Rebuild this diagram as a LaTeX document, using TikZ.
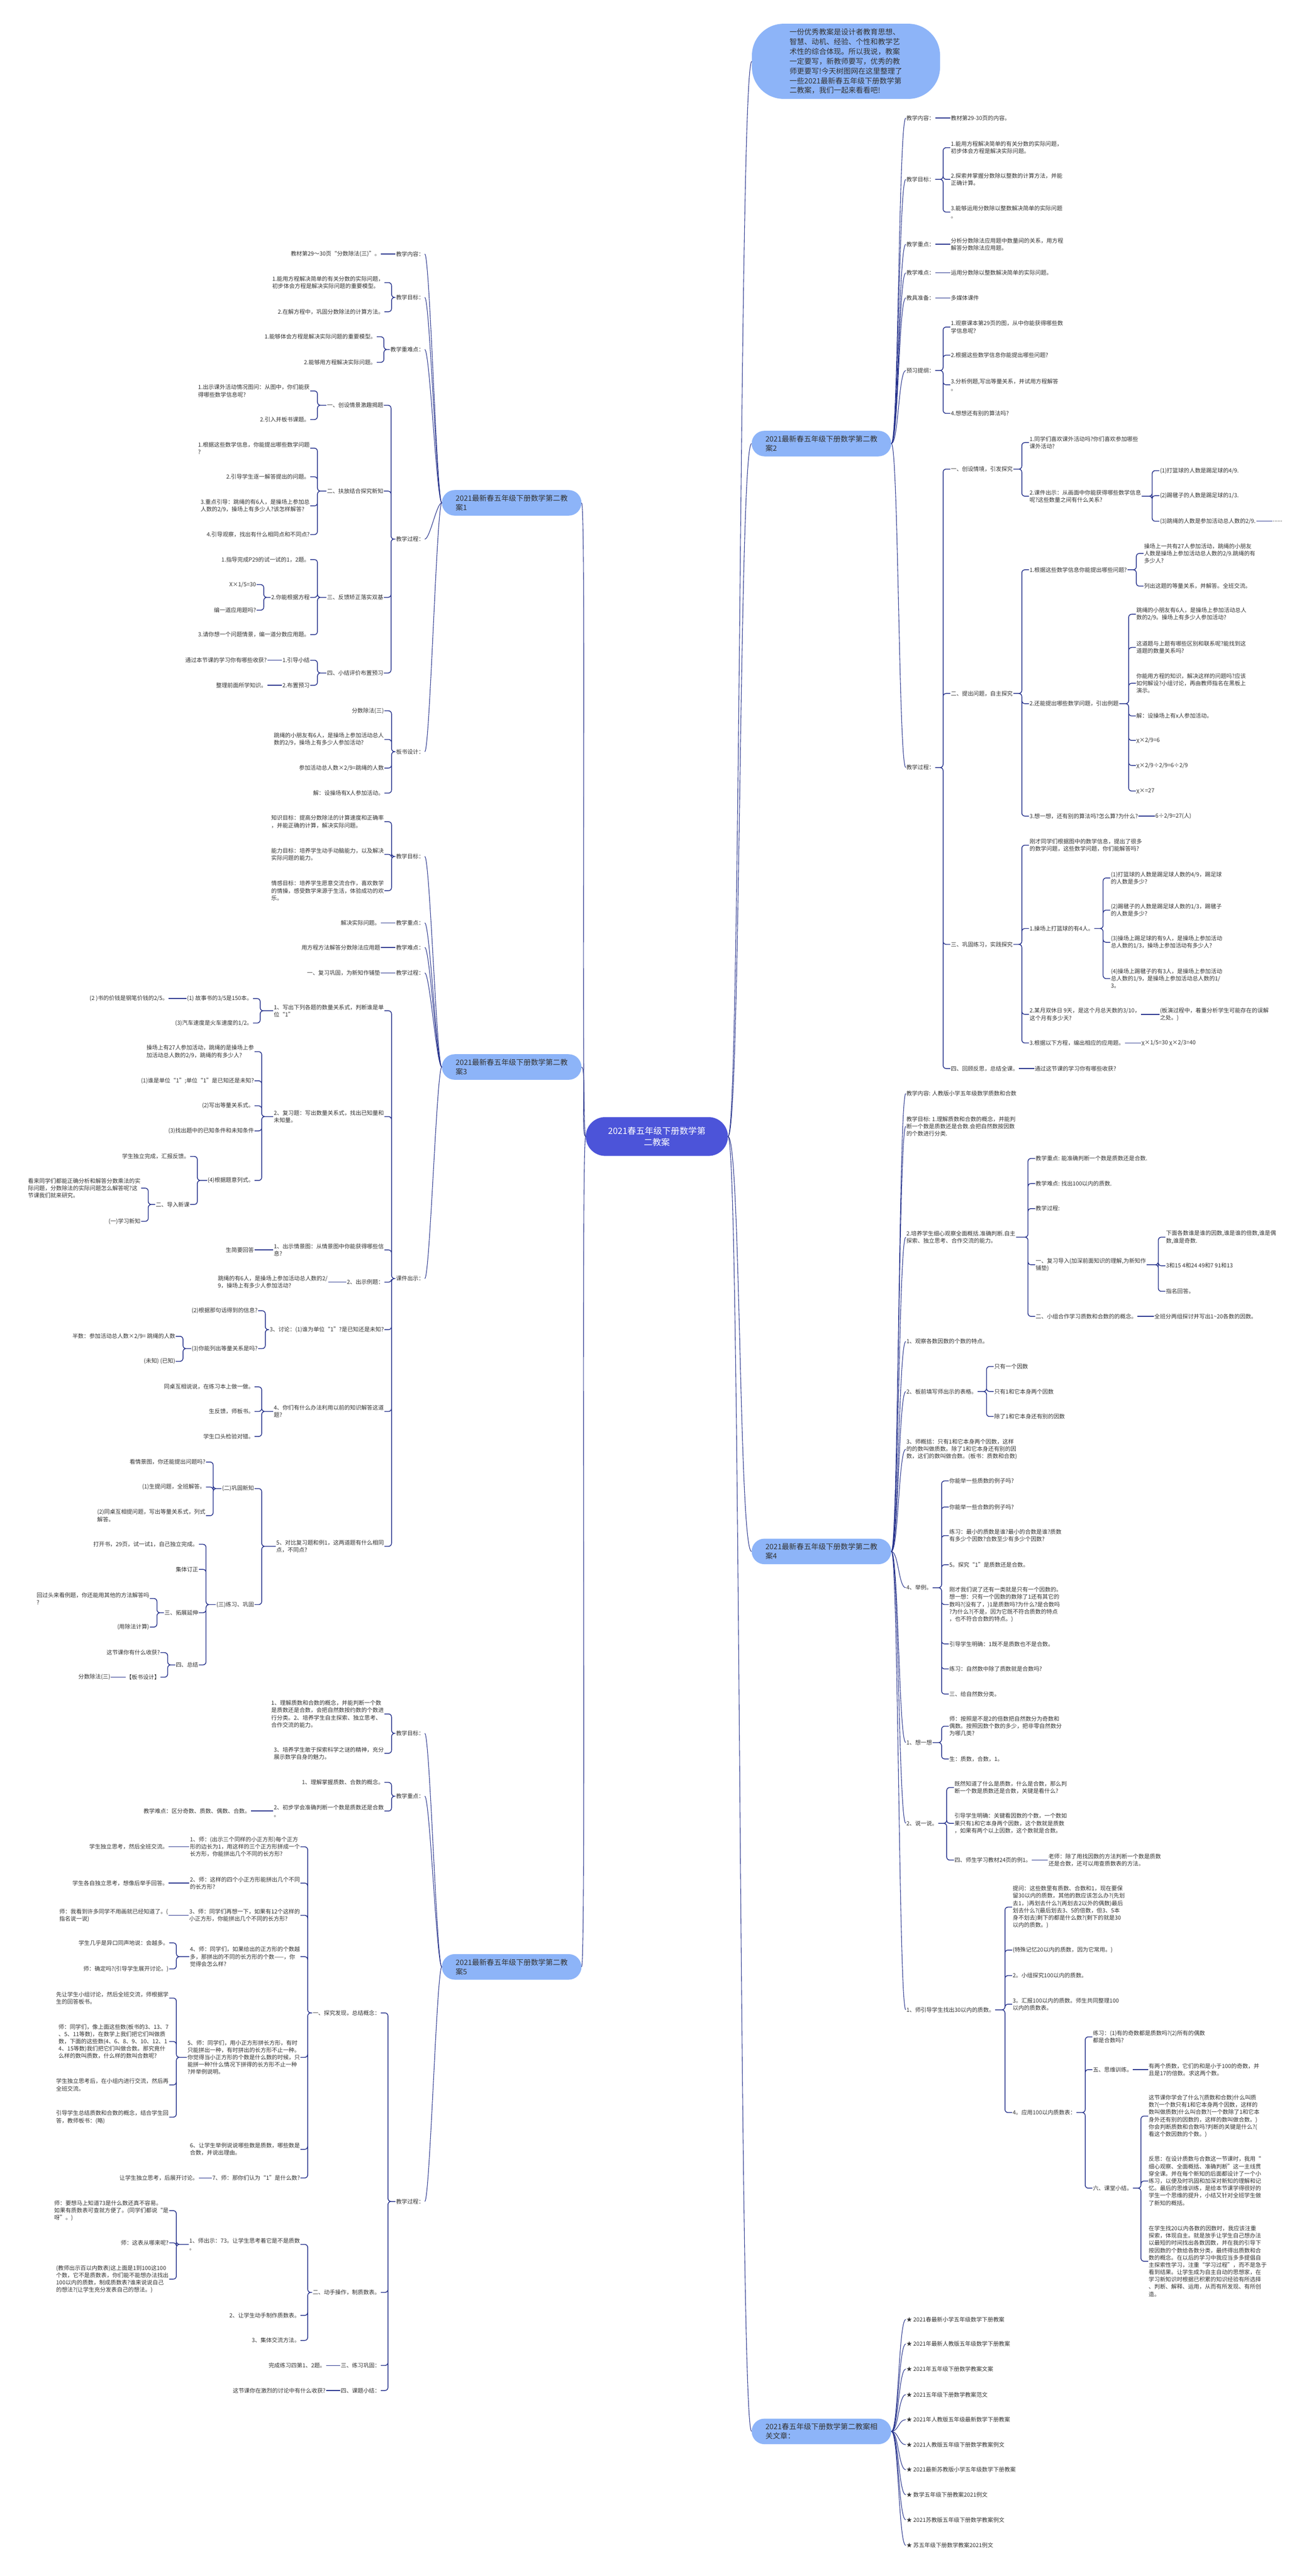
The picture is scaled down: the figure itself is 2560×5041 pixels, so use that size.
\documentclass[tikz,border=0pt]{standalone}
\usepackage{fontspec}
\setmainfont{Noto Sans CJK SC}
\usetikzlibrary{calc,positioning}
\definecolor{topicblue}{RGB}{141,180,248}
\definecolor{rootblue}{RGB}{76,84,217}
\definecolor{linkblue}{RGB}{38,50,140}
\definecolor{textgray}{RGB}{51,51,51}
\tikzset{
  leaf/.style={anchor=west, inner sep=1pt, align=left, text=textgray, font=\fontsize{11}{14.3}\selectfont},
  leafl/.style={leaf, anchor=east},
  topic/.style={fill=topicblue, rounded corners=25pt, minimum width=273pt, minimum height=50pt, inner sep=0pt, align=left, text=textgray, font=\fontsize{14.4}{18.4}\selectfont},
  intro/.style={fill=topicblue, rounded corners=62pt, minimum width=368pt, minimum height=147pt, align=left, text=textgray, font=\fontsize{14.4}{19}\selectfont},
  root/.style={fill=rootblue, text=white, rounded corners=38pt, minimum width=278pt, minimum height=76pt, align=center, font=\fontsize{17}{22}\selectfont},
  link/.style={draw=linkblue, line width=1.5pt, rounded corners=6pt},
  spoke/.style={draw=linkblue, line width=1.1pt},
  rbr/.style={to path={-- ($(\tikztotarget.west |- \tikztostart)+(-14,0)$) |- (\tikztotarget.west)}},
  lbr/.style={to path={-- ($(\tikztotarget.east |- \tikztostart)+(14,0)$) |- (\tikztotarget.east)}},
}

\begin{document}
\begin{tikzpicture}[x=1pt, y=-1pt]
\path[use as bounding box, fill=white] (0,0) rectangle (2560,5041);

% root and intro
\node[root] (root) at (1285,2224) {2021春五年级下册数学第\\二教案};
\node[intro] (intro) at (1655,120) {一份优秀教案是设计者教育思想、\\智慧、动机、经验、个性和教学艺\\术性的综合体现。所以我说，教案\\一定要写，新教师要写，优秀的教\\师更要写!今天树图网在这里整理了\\一些2021最新春五年级下册数学第\\二教案，我们一起来看看吧!};

% branch 2
\node[topic] (b2) at (1607,868) {2021最新春五年级下册数学第二教\\案2};
\node[leaf] (b2a) at (1772,231) {教学内容：};
\node[leaf] (b2a1) at (1859,231) {教材第29-30页的内容。};
\node[leaf] (b2b) at (1772,351) {教学目标：};
\node[leaf] (b2b1) at (1859,289) {1.能用方程解决简单的有关分数的实际问题，\\初步体会方程是解决实际问题。};
\node[leaf] (b2b2) at (1859,351) {2.探索并掌握分数除以整数的计算方法，并能\\正确计算。};
\node[leaf] (b2b3) at (1859,415) {3.能够运用分数除以整数解决简单的实际问题\\。};
\node[leaf] (b2c) at (1772,478) {教学重点：};
\node[leaf] (b2c1) at (1859,478) {分析分数除法应用题中数量间的关系，用方程\\解答分数除法应用题。};
\node[leaf] (b2d) at (1772,534) {教学难点：};
\node[leaf] (b2d1) at (1859,534) {运用分数除以整数解决简单的实际问题。};
\node[leaf] (b2e) at (1772,583) {教具准备：};
\node[leaf] (b2e1) at (1859,583) {多媒体课件};
\node[leaf] (b2f) at (1772,725) {预习提纲：};
\node[leaf] (b2f1) at (1859,640) {1.观察课本第29页的图，从中你能获得哪些数\\学信息呢?};
\node[leaf] (b2f2) at (1859,695) {2.根据这些数学信息你能提出哪些问题?};
\node[leaf] (b2f3) at (1859,753) {3.分析例题,写出等量关系，并试用方程解答\\。};
\node[leaf] (b2f4) at (1859,809) {4.想想还有别的算法吗?};
\node[leaf] (b2g) at (1772,1502) {教学过程：};
\node[leaf] (b2g1) at (1859,918) {一、创设情境，引发探究};
\node[leaf] (b2g11) at (2013,866) {1.同学们喜欢课外活动吗?你们喜欢参加哪些\\课外活动?};
\node[leaf] (b2g12) at (2013,971) {2.课件出示：从画面中你能获得哪些数学信息\\呢?这些数量之间有什么关系?};
\node[leaf] (b2g121) at (2268,921) {(1)打篮球的人数是踢足球的4/9.};
\node[leaf] (b2g122) at (2268,970) {(2)踢毽子的人数是踢足球的1/3.};
\node[leaf] (b2g123) at (2268,1020) {(3)跳绳的人数是参加活动总人数的2/9.};
\node[leaf] (b2g1231) at (2489,1020) {......};
\node[leaf] (b2g2) at (1859,1357) {二、提出问题，自主探究};
\node[leaf] (b2g21) at (2013,1115) {1.根据这些数学信息你能提出哪些问题?};
\node[leaf] (b2g211) at (2237,1083) {操场上一共有27人参加活动，跳绳的小朋友\\人数是操场上参加活动总人数的2/9.跳绳的有\\多少人?};
\node[leaf] (b2g212) at (2237,1147) {列出这题的等量关系，并解答。全班交流。};
\node[leaf] (b2g22) at (2013,1377) {2.还能提出哪些数学问题，引出例题};
\node[leaf] (b2g221) at (2222,1202) {跳绳的小朋友有6人，是操场上参加活动总人\\数的2/9。操场上有多少人参加活动?};
\node[leaf] (b2g222) at (2222,1267) {这道题与上题有哪些区别和联系呢?能找到这\\道题的数量关系吗?};
\node[leaf] (b2g223) at (2222,1337) {你能用方程的知识，解决这样的问题吗?应该\\如何解设?小组讨论，再由教师指名在黑板上\\演示。};
\node[leaf] (b2g224) at (2222,1401) {解：设操场上有x人参加活动。};
\node[leaf] (b2g225) at (2222,1449) {χ×2/9=6};
\node[leaf] (b2g226) at (2222,1498) {χ×2/9÷2/9=6÷2/9};
\node[leaf] (b2g227) at (2222,1548) {χ×=27};
\node[leaf] (b2g23) at (2013,1597) {3.想一想，还有别的算法吗?怎么算?为什么?};
\node[leaf] (b2g231) at (2259,1597) {6÷2/9=27(人)};
\node[leaf] (b2g3) at (1859,1848) {三、巩固练习，实践探究};
\node[leaf] (b2g31) at (2013,1654) {刚才同学们根据图中的数学信息，提出了很多\\的数学问题，这些数学问题，你们能解答吗?};
\node[leaf] (b2g32) at (2013,1817) {1.操场上打篮球的有4人。};
\node[leaf] (b2g321) at (2172,1718) {(1)打篮球的人数是踢足球人数的4/9，踢足球\\的人数是多少?};
\node[leaf] (b2g322) at (2172,1781) {(2)踢毽子的人数是踢足球人数的1/3，踢毽子\\的人数是多少?};
\node[leaf] (b2g323) at (2172,1844) {(3)操场上踢足球的有9人，是操场上参加活动\\总人数的1/3，操场上参加活动有多少人?};
\node[leaf] (b2g324) at (2172,1915) {(4)操场上踢毽子的有3人，是操场上参加活动\\总人数的1/9，是操场上参加活动总人数的1/\\3。};
\node[leaf] (b2g33) at (2013,1985) {2.某月双休日 9天，是这个月总天数的3/10，\\这个月有多少天?};
\node[leaf] (b2g331) at (2268,1985) {(板演过程中，着重分析学生可能存在的误解\\之处。)};
\node[leaf] (b2g34) at (2013,2041) {3.根据以下方程，编出相应的应用题。};
\node[leaf] (b2g341) at (2232,2041) {χ×1/5=30 χ×2/3=40};
\node[leaf] (b2g4) at (1859,2091) {四、回顾反思，总结全课。};
\node[leaf] (b2g41) at (2023,2091) {通过这节课的学习你有哪些收获?};

\draw[spoke] (b2.east) .. controls +(14,0) and +(-14,0) .. (b2a.west);
\draw[spoke] (b2.east) .. controls +(14,0) and +(-14,0) .. (b2b.west);
\draw[spoke] (b2.east) .. controls +(14,0) and +(-14,0) .. (b2c.west);
\draw[spoke] (b2.east) .. controls +(14,0) and +(-14,0) .. (b2d.west);
\draw[spoke] (b2.east) .. controls +(14,0) and +(-14,0) .. (b2e.west);
\draw[spoke] (b2.east) .. controls +(14,0) and +(-14,0) .. (b2f.west);
\draw[spoke] (b2.east) .. controls +(14,0) and +(-14,0) .. (b2g.west);
\draw[link] (b2a.east) -- (b2a1.west);
\draw[link] (b2b.east) to[rbr] (b2b1) (b2b.east) to[rbr] (b2b2) (b2b.east) to[rbr] (b2b3);
\draw[link] (b2c.east) -- (b2c1.west);
\draw[link] (b2d.east) -- (b2d1.west);
\draw[link] (b2e.east) -- (b2e1.west);
\draw[link] (b2f.east) to[rbr] (b2f1) (b2f.east) to[rbr] (b2f2) (b2f.east) to[rbr] (b2f3) (b2f.east) to[rbr] (b2f4);
\draw[link] (b2g.east) to[rbr] (b2g1) (b2g.east) to[rbr] (b2g2) (b2g.east) to[rbr] (b2g3) (b2g.east) to[rbr] (b2g4);
\draw[link] (b2g1.east) to[rbr] (b2g11) (b2g1.east) to[rbr] (b2g12);
\draw[link] (b2g12.east) to[rbr] (b2g121) (b2g12.east) to[rbr] (b2g122) (b2g12.east) to[rbr] (b2g123);
\draw[link] (b2g123.east) -- (b2g1231.west);
\draw[link] (b2g2.east) to[rbr] (b2g21) (b2g2.east) to[rbr] (b2g22) (b2g2.east) to[rbr] (b2g23);
\draw[link] (b2g21.east) to[rbr] (b2g211) (b2g21.east) to[rbr] (b2g212);
\draw[link] (b2g22.east) to[rbr] (b2g221) (b2g22.east) to[rbr] (b2g222) (b2g22.east) to[rbr] (b2g223) (b2g22.east) to[rbr] (b2g224) (b2g22.east) to[rbr] (b2g225) (b2g22.east) to[rbr] (b2g226) (b2g22.east) to[rbr] (b2g227);
\draw[link] (b2g23.east) -- (b2g231.west);
\draw[link] (b2g3.east) to[rbr] (b2g31) (b2g3.east) to[rbr] (b2g32) (b2g3.east) to[rbr] (b2g33) (b2g3.east) to[rbr] (b2g34);
\draw[link] (b2g32.east) to[rbr] (b2g321) (b2g32.east) to[rbr] (b2g322) (b2g32.east) to[rbr] (b2g323) (b2g32.east) to[rbr] (b2g324);
\draw[link] (b2g33.east) -- (b2g331.west);
\draw[link] (b2g34.east) -- (b2g341.west);
\draw[link] (b2g4.east) -- (b2g41.west);

% branch 4
\node[topic] (b4) at (1607,3036) {2021最新春五年级下册数学第二教\\案4};
\node[leaf] (b4a) at (1772,2140) {教学内容: 人教版小学五年级数学质数和合数};
\node[leaf] (b4b) at (1772,2204) {教学目标: 1.理解质数和合数的概念，并能判\\断一个数是质数还是合数.会把自然数按因数\\的个数进行分类.};
\node[leaf] (b4c) at (1772,2421) {2.培养学生细心观察全面概括.准确判断.自主\\探索、独立思考、合作交流的能力。};
\node[leaf] (b4c1) at (2025,2267) {教学重点: 能准确判断一个数是质数还是合数.};
\node[leaf] (b4c2) at (2025,2316) {教学难点: 找出100以内的质数.};
\node[leaf] (b4c3) at (2025,2365) {教学过程:};
\node[leaf] (b4c4) at (2025,2475) {一、复习导入(加深前面知识的理解,为新知作\\铺垫)};
\node[leaf] (b4c41) at (2280,2421) {下面各数谁是谁的因数,谁是谁的倍数,谁是偶\\数,谁是奇数.};
\node[leaf] (b4c42) at (2280,2477) {3和15 4和24 49和7 91和13};
\node[leaf] (b4c43) at (2280,2527) {指名回答。};
\node[leaf] (b4c5) at (2025,2576) {二、小组合作学习质数和合数的的概念。};
\node[leaf] (b4c51) at (2257,2576) {全班分两组探讨并写出1\textasciitilde20各数的因数。};
\node[leaf] (b4d) at (1772,2625) {1、观察各数因数的个数的特点。};
\node[leaf] (b4e) at (1772,2723) {2、板前填写师出示的表格。};
\node[leaf] (b4e1) at (1944,2674) {只有一个因数};
\node[leaf] (b4e2) at (1944,2723) {只有1和它本身两个因数};
\node[leaf] (b4e3) at (1944,2772) {除了1和它本身还有别的因数};
\node[leaf] (b4f) at (1772,2836) {3、师概括：只有1和它本身两个因数，这样\\的的数叫做质数。除了1和它本身还有别的因\\数，这们的数叫做合数。(板书：质数和合数)};
\node[leaf] (b4g) at (1772,3107) {4、举例。};
\node[leaf] (b4g1) at (1856,2898) {你能举一些质数的例子吗?};
\node[leaf] (b4g2) at (1856,2949) {你能举一些合数的例子吗?};
\node[leaf] (b4g3) at (1856,3005) {练习：最小的质数是谁?最小的合数是谁?质数\\有多少个因数?合数至少有多少个因数?};
\node[leaf] (b4g4) at (1856,3062) {5。探究“1”是质数还是合数。};
\node[leaf] (b4g5) at (1856,3140) {刚才我们说了还有一类就是只有一个因数的。\\想一想：只有一个因数的数除了1还有其它的\\数吗?(没有了，)1是质数吗?为什么?是合数吗\\?为什么?(不是，因为它既不符合质数的特点\\，也不符合合数的特点。)};
\node[leaf] (b4g6) at (1856,3217) {引导学生明确：1既不是质数也不是合数。};
\node[leaf] (b4g7) at (1856,3266) {练习：自然数中除了质数就是合数吗?};
\node[leaf] (b4g8) at (1856,3315) {三、给自然数分类。};
\node[leaf] (b4h) at (1772,3410) {1、想一想};
\node[leaf] (b4h1) at (1856,3378) {师：按照是不是2的倍数把自然数分为奇数和\\偶数。按照因数个数的多少，把非零自然数分\\为哪几类?};
\node[leaf] (b4h2) at (1856,3442) {生：质数，合数，1。};
\node[leaf] (b4i) at (1772,3568) {2、说一说。};
\node[leaf] (b4i1) at (1866,3498) {既然知道了什么是质数，什么是合数，那么判\\断一个数是质数还是合数，关键是看什么?};
\node[leaf] (b4i2) at (1866,3568) {引导学生明确：关键看因数的个数，一个数如\\果只有1和它本身两个因数，这个数就是质数\\，如果有两个以上因数，这个数就是合数。};
\node[leaf] (b4i3) at (1866,3640) {四、师生学习教材24页的例1。};
\node[leaf] (b4i31) at (2050,3640) {老师：除了用找因数的方法判断一个数是质数\\还是合数，还可以用查质数表的方法。};
\node[leaf] (b4j) at (1772,3933) {1、师引导学生找出30以内的质数。};
\node[leaf] (b4j1) at (1980,3732) {提问：这些数里有质数、合数和1，现在要保\\留30以内的质数，其他的数应该怎么办?(先划\\去1，)再划去什么?(再划去2以外的偶数)最后\\划去什么?(最后划去3、5的倍数，但3、5本\\身不划去)剩下的都是什么数?(剩下的就是30\\以内的质数。)};
\node[leaf] (b4j2) at (1980,3816) {(特殊记忆20以内的质数，因为它常用。)};
\node[leaf] (b4j3) at (1980,3866) {2。小组探究100以内的质数。};
\node[leaf] (b4j4) at (1980,3922) {3。汇报100以内的质数。师生共同整理100\\以内的质数表。};
\node[leaf] (b4j5) at (1980,4134) {4。应用100以内质数表：};
\node[leaf] (b4j51) at (2137,3986) {练习：(1)有的奇数都是质数吗?(2)所有的偶数\\都是合数吗?};
\node[leaf] (b4j52) at (2137,4050) {五、思维训练。};
\node[leaf] (b4j521) at (2246,4050) {有两个质数，它们的和是小于100的奇数，并\\且是17的倍数。求这两个数。};
\node[leaf] (b4j53) at (2137,4282) {六、课堂小结。};
\node[leaf] (b4j531) at (2246,4141) {这节课你学会了什么?(质数和合数)什么叫质\\数?(一个数只有1和它本身两个因数，这样的\\数叫做质数)什么叫合数?(一个数除了1和它本\\身外还有别的因数的，这样的数叫做合数。)\\你会判断质数和合数吗?判断的关键是什么?(\\看这个数因数的个数。)};
\node[leaf] (b4j532) at (2246,4268) {反思：在设计质数与合数这一节课时，我用“\\细心观察、全面概括、准确判断”这一主线贯\\穿全课。并在每个新知的后面都设计了一个小\\练习，以便及时巩固和加深对新知的理解和记\\忆。最后的思维训练，是给本节课学得很好的\\学生一个思维的提升，小结又针对全班学生做\\了新知的概括。};
\node[leaf] (b4j533) at (2246,4425) {在学生找20以内各数的因数时，我应该注重\\探索，体现自主。就是放手让学生自己想办法\\以最短的时间找出各数因数，并在我的引导下\\按因数的个数给各数分类，最终得出质数和合\\数的概念。在以后的学习中我应当多多提倡自\\主探索性学习，注重“学习过程”，而不是急于\\看到结果。让学生成为自主自动的思想家，在\\学习新知识时根据已积累的知识经验有所选择\\、判断、解释、运用，从而有所发现、有所创\\造。};

\draw[spoke] (b4.east) .. controls +(14,0) and +(-14,0) .. (b4a.west);
\draw[spoke] (b4.east) .. controls +(14,0) and +(-14,0) .. (b4b.west);
\draw[spoke] (b4.east) .. controls +(14,0) and +(-14,0) .. (b4c.west);
\draw[spoke] (b4.east) .. controls +(14,0) and +(-14,0) .. (b4d.west);
\draw[spoke] (b4.east) .. controls +(14,0) and +(-14,0) .. (b4e.west);
\draw[spoke] (b4.east) .. controls +(14,0) and +(-14,0) .. (b4f.west);
\draw[spoke] (b4.east) .. controls +(14,0) and +(-14,0) .. (b4g.west);
\draw[spoke] (b4.east) .. controls +(14,0) and +(-14,0) .. (b4h.west);
\draw[spoke] (b4.east) .. controls +(14,0) and +(-14,0) .. (b4i.west);
\draw[spoke] (b4.east) .. controls +(14,0) and +(-14,0) .. (b4j.west);
\draw[link] (b4c.east) to[rbr] (b4c1) (b4c.east) to[rbr] (b4c2) (b4c.east) to[rbr] (b4c3) (b4c.east) to[rbr] (b4c4) (b4c.east) to[rbr] (b4c5);
\draw[link] (b4c4.east) to[rbr] (b4c41) (b4c4.east) to[rbr] (b4c42) (b4c4.east) to[rbr] (b4c43);
\draw[link] (b4c5.east) -- (b4c51.west);
\draw[link] (b4e.east) to[rbr] (b4e1) (b4e.east) to[rbr] (b4e2) (b4e.east) to[rbr] (b4e3);
\draw[link] (b4g.east) to[rbr] (b4g1) (b4g.east) to[rbr] (b4g2) (b4g.east) to[rbr] (b4g3) (b4g.east) to[rbr] (b4g4) (b4g.east) to[rbr] (b4g5) (b4g.east) to[rbr] (b4g6) (b4g.east) to[rbr] (b4g7) (b4g.east) to[rbr] (b4g8);
\draw[link] (b4h.east) to[rbr] (b4h1) (b4h.east) to[rbr] (b4h2);
\draw[link] (b4i.east) to[rbr] (b4i1) (b4i.east) to[rbr] (b4i2) (b4i.east) to[rbr] (b4i3);
\draw[link] (b4i3.east) -- (b4i31.west);
\draw[link] (b4j.east) to[rbr] (b4j1) (b4j.east) to[rbr] (b4j2) (b4j.east) to[rbr] (b4j3) (b4j.east) to[rbr] (b4j4) (b4j.east) to[rbr] (b4j5);
\draw[link] (b4j5.east) to[rbr] (b4j51) (b4j5.east) to[rbr] (b4j52) (b4j5.east) to[rbr] (b4j53);
\draw[link] (b4j52.east) -- (b4j521.west);
\draw[link] (b4j53.east) to[rbr] (b4j531) (b4j53.east) to[rbr] (b4j532) (b4j53.east) to[rbr] (b4j533);

% branch 6: related articles
\node[topic] (b6) at (1607,4758) {2021春五年级下册数学第二教案相\\关文章：};
\node[leaf] (b6a) at (1772,4539) {★ 2021春最新小学五年级数学下册教案};
\node[leaf] (b6b) at (1772,4587) {★ 2021年最新人教版五年级数学下册教案};
\node[leaf] (b6c) at (1772,4636) {★ 2021年五年级下册数学教案文案};
\node[leaf] (b6d) at (1772,4686) {★ 2021五年级下册数学教案范文};
\node[leaf] (b6e) at (1772,4735) {★ 2021年人教版五年级最新数学下册教案};
\node[leaf] (b6f) at (1772,4784) {★ 2021人教版五年级下册数学教案例文};
\node[leaf] (b6g) at (1772,4833) {★ 2021最新苏教版小学五年级数学下册教案};
\node[leaf] (b6h) at (1772,4882) {★ 数学五年级下册教案2021例文};
\node[leaf] (b6i) at (1772,4931) {★ 2021苏教版五年级下册数学教案例文};
\node[leaf] (b6j) at (1772,4981) {★ 苏五年级下册数学教案2021例文};
\draw[spoke] (b6.east) .. controls +(14,0) and +(-14,0) .. (b6a.west);
\draw[spoke] (b6.east) .. controls +(14,0) and +(-14,0) .. (b6b.west);
\draw[spoke] (b6.east) .. controls +(14,0) and +(-14,0) .. (b6c.west);
\draw[spoke] (b6.east) .. controls +(14,0) and +(-14,0) .. (b6d.west);
\draw[spoke] (b6.east) .. controls +(14,0) and +(-14,0) .. (b6e.west);
\draw[spoke] (b6.east) .. controls +(14,0) and +(-14,0) .. (b6f.west);
\draw[spoke] (b6.east) .. controls +(14,0) and +(-14,0) .. (b6g.west);
\draw[spoke] (b6.east) .. controls +(14,0) and +(-14,0) .. (b6h.west);
\draw[spoke] (b6.east) .. controls +(14,0) and +(-14,0) .. (b6i.west);
\draw[spoke] (b6.east) .. controls +(14,0) and +(-14,0) .. (b6j.west);

% branch 1
\node[topic] (b1) at (1001,984) {2021最新春五年级下册数学第二教\\案1};
\node[leafl] (b1a) at (831,497) {教学内容：};
\node[leafl] (b1a1) at (745,497) {教材第29～30页“分数除法(三)”。};
\node[leafl] (b1b) at (831,582) {教学目标：};
\node[leafl] (b1b1) at (752,553) {1.能用方程解决简单的有关分数的实际问题，\\初步体会方程是解决实际问题的重要模型。};
\node[leafl] (b1b2) at (752,610) {2.在解方程中，巩固分数除法的计算方法。};
\node[leafl] (b1c) at (831,684) {教学重难点：};
\node[leafl] (b1c1) at (737,659) {1.能够体会方程是解决实际问题的重要模型。};
\node[leafl] (b1c2) at (737,709) {2.能够用方程解决实际问题。};
\node[leafl] (b1d) at (831,1055) {教学过程：};
\node[leafl] (b1d1) at (751,793) {一、创设情景激趣揭题};
\node[leafl] (b1d11) at (607,765) {1.出示课外活动情况图问：从图中，你们能获\\得哪些数学信息呢?};
\node[leafl] (b1d12) at (607,821) {2.引入并板书课题。};
\node[leafl] (b1d2) at (751,961) {二、扶放结合探究新知};
\node[leafl] (b1d21) at (607,877) {1.根据这些数学信息，你能提出哪些数学问题\\?};
\node[leafl] (b1d22) at (607,933) {2.引导学生逐一解答提出的问题。};
\node[leafl] (b1d23) at (607,990) {3.重点引导：跳绳的有6人，是操场上参加总\\人数的2/9，操场上有多少人?该怎样解答?};
\node[leafl] (b1d24) at (607,1046) {4.引导观察，找出有什么相同点和不同点?};
\node[leafl] (b1d3) at (751,1169) {三、反馈矫正落实双基};
\node[leafl] (b1d31) at (607,1095) {1.指导完成P29的试一试的1，2题。};
\node[leafl] (b1d32) at (607,1169) {2.你能根据方程};
\node[leafl] (b1d321) at (502,1144) {X×1/5=30};
\node[leafl] (b1d322) at (502,1194) {编一道应用题吗?};
\node[leafl] (b1d33) at (607,1242) {3.请你想一个问题情景，编一道分数应用题。};
\node[leafl] (b1d4) at (751,1317) {四、小结评价布置预习};
\node[leafl] (b1d41) at (607,1292) {1.引导小结};
\node[leafl] (b1d411) at (523,1292) {通过本节课的学习你有哪些收获?};
\node[leafl] (b1d42) at (607,1341) {2.布置预习};
\node[leafl] (b1d421) at (523,1341) {整理前面所学知识。};
\node[leafl] (b1e) at (831,1471) {板书设计：};
\node[leafl] (b1e1) at (752,1391) {分数除法(三)};
\node[leafl] (b1e2) at (752,1447) {跳绳的小朋友有6人，是操场上参加活动总人\\数的2/9，操场上有多少人参加活动?};
\node[leafl] (b1e3) at (752,1503) {参加活动总人数×2/9=跳绳的人数};
\node[leafl] (b1e4) at (752,1552) {解：设操场有X人参加活动。};

\draw[spoke] (b1.west) .. controls +(-10,0) and +(10,0) .. (b1a.east);
\draw[spoke] (b1.west) .. controls +(-10,0) and +(10,0) .. (b1b.east);
\draw[spoke] (b1.west) .. controls +(-10,0) and +(10,0) .. (b1c.east);
\draw[spoke] (b1.west) .. controls +(-10,0) and +(10,0) .. (b1d.east);
\draw[spoke] (b1.west) .. controls +(-10,0) and +(10,0) .. (b1e.east);
\draw[link] (b1a.west) -- (b1a1.east);
\draw[link] (b1b.west) to[lbr] (b1b1) (b1b.west) to[lbr] (b1b2);
\draw[link] (b1c.west) to[lbr] (b1c1) (b1c.west) to[lbr] (b1c2);
\draw[link] (b1d.west) to[lbr] (b1d1) (b1d.west) to[lbr] (b1d2) (b1d.west) to[lbr] (b1d3) (b1d.west) to[lbr] (b1d4);
\draw[link] (b1d1.west) to[lbr] (b1d11) (b1d1.west) to[lbr] (b1d12);
\draw[link] (b1d2.west) to[lbr] (b1d21) (b1d2.west) to[lbr] (b1d22) (b1d2.west) to[lbr] (b1d23) (b1d2.west) to[lbr] (b1d24);
\draw[link] (b1d3.west) to[lbr] (b1d31) (b1d3.west) to[lbr] (b1d32) (b1d3.west) to[lbr] (b1d33);
\draw[link] (b1d32.west) to[lbr] (b1d321) (b1d32.west) to[lbr] (b1d322);
\draw[link] (b1d4.west) to[lbr] (b1d41) (b1d4.west) to[lbr] (b1d42);
\draw[link] (b1d41.west) -- (b1d411.east);
\draw[link] (b1d42.west) -- (b1d421.east);
\draw[link] (b1e.west) to[lbr] (b1e1) (b1e.west) to[lbr] (b1e2) (b1e.west) to[lbr] (b1e3) (b1e.west) to[lbr] (b1e4);

% branch 3
\node[topic] (b3) at (1001,2088) {2021最新春五年级下册数学第二教\\案3};
\node[leafl] (b3a) at (831,1676) {教学目标：};
\node[leafl] (b3a1) at (752,1608) {知识目标：提高分数除法的计算速度和正确率\\，并能正确的计算，解决实际问题。};
\node[leafl] (b3a2) at (752,1672) {能力目标：培养学生动手动脑能力，以及解决\\实际问题的能力。};
\node[leafl] (b3a3) at (752,1743) {情感目标：培养学生愿意交流合作，喜欢数学\\的情操，感受数学来源于生活，体验成功的欢\\乐。};
\node[leafl] (b3b) at (831,1806) {教学重点：};
\node[leafl] (b3b1) at (745,1806) {解决实际问题。};
\node[leafl] (b3c) at (831,1854) {教学难点：};
\node[leafl] (b3c1) at (745,1854) {用方程方法解答分数除法应用题};
\node[leafl] (b3d) at (831,1904) {教学过程：};
\node[leafl] (b3d1) at (745,1904) {一、复习巩固，为新知作铺垫};
\node[leafl] (b3e) at (831,2502) {课件出示：};
\node[leafl] (b3e1) at (752,1978) {1、写出下列各题的数量关系式，判断谁是单\\位“1”};
\node[leafl] (b3e11) at (495,1954) {(1) 故事书的3/5是150本。};
\node[leafl] (b3e111) at (330,1954) {(2 )书的价钱是钢笔价钱的2/5。};
\node[leafl] (b3e12) at (495,2002) {(3)汽车速度是火车速度的1/2。};
\node[leafl] (b3e2) at (752,2185) {2、复习题：写出数量关系式，找出已知量和\\未知量。};
\node[leafl] (b3e21) at (498,2058) {操场上有27人参加活动，跳绳的是操场上参\\加活动总人数的2/9，跳绳的有多少人?};
\node[leafl] (b3e22) at (498,2115) {(1)谁是单位“1”;单位“1”是已知还是未知?};
\node[leafl] (b3e23) at (498,2164) {(2)写出等量关系式。};
\node[leafl] (b3e24) at (498,2213) {(3)找出题中的已知条件和未知条件};
\node[leafl] (b3e25) at (498,2310) {(4)根据题意列式。};
\node[leafl] (b3e251) at (372,2263) {学生独立完成，汇报反馈。};
\node[leafl] (b3e252) at (372,2357) {二、导入新课};
\node[leafl] (b3e2521) at (276,2325) {看来同学们都能正确分析和解答分数乘法的实\\际问题，分数除法的实际问题怎么解答呢?这\\节课我们就来研究。};
\node[leafl] (b3e2522) at (276,2390) {(一)学习新知};
\node[leafl] (b3e3) at (752,2446) {1、出示情景图：从情景图中你能获得哪些信\\息?};
\node[leafl] (b3e31) at (498,2446) {生简要回答};
\node[leafl] (b3e4) at (752,2509) {2、出示例题：};
\node[leafl] (b3e41) at (642,2509) {跳绳的有6人，是操场上参加活动总人数的2/\\9，操场上有多少人参加活动?};
\node[leafl] (b3e5) at (752,2602) {3、讨论：(1)谁为单位“1”?是已知还是未知?};
\node[leafl] (b3e51) at (505,2565) {(2)根据那句话得到的信息?};
\node[leafl] (b3e52) at (505,2639) {(3)你能列出等量关系是吗?};
\node[leafl] (b3e521) at (344,2615) {半数：参加活动总人数×2/9= 跳绳的人数};
\node[leafl] (b3e522) at (344,2664) {(未知) (已知)};
\node[leafl] (b3e6) at (752,2762) {4、你们有什么办法利用以前的知识解答这道\\题?};
\node[leafl] (b3e61) at (498,2714) {同桌互相说说，在练习本上做一做。};
\node[leafl] (b3e62) at (498,2762) {生反馈，师板书。};
\node[leafl] (b3e63) at (498,2811) {学生口头检验对错。};
\node[leafl] (b3e7) at (752,3026) {5、对比复习题和例1，这两道题有什么相同\\点，不同点?};
\node[leafl] (b3e71) at (498,2913) {(二)巩固新知};
\node[leafl] (b3e711) at (403,2861) {看情景图，你还能提出问题吗?};
\node[leafl] (b3e712) at (403,2910) {(1)生提问题，全班解答。};
\node[leafl] (b3e713) at (403,2966) {(2)同桌互相提问题，写出等量关系式，列式\\解答。};
\node[leafl] (b3e72) at (498,3140) {(三)练习、巩固};
\node[leafl] (b3e721) at (389,3022) {打开书，29页，试一试1，自己独立完成。};
\node[leafl] (b3e722) at (389,3071) {集体订正};
\node[leafl] (b3e723) at (389,3156) {三、拓展延伸};
\node[leafl] (b3e7231) at (293,3128) {回过头来看例题，你还能用其他的方法解答吗\\?};
\node[leafl] (b3e7232) at (293,3184) {(用除法计算)};
\node[leafl] (b3e724) at (389,3258) {四、总结};
\node[leafl] (b3e7241) at (314,3234) {这节课你有什么收获?};
\node[leafl] (b3e7242) at (314,3282) {【板书设计】};
\node[leafl] (b3e72421) at (217,3282) {分数除法(三)};

\draw[spoke] (b3.west) .. controls +(-10,0) and +(10,0) .. (b3a.east);
\draw[spoke] (b3.west) .. controls +(-10,0) and +(10,0) .. (b3b.east);
\draw[spoke] (b3.west) .. controls +(-10,0) and +(10,0) .. (b3c.east);
\draw[spoke] (b3.west) .. controls +(-10,0) and +(10,0) .. (b3d.east);
\draw[spoke] (b3.west) .. controls +(-10,0) and +(10,0) .. (b3e.east);
\draw[link] (b3a.west) to[lbr] (b3a1) (b3a.west) to[lbr] (b3a2) (b3a.west) to[lbr] (b3a3);
\draw[link] (b3b.west) -- (b3b1.east);
\draw[link] (b3c.west) -- (b3c1.east);
\draw[link] (b3d.west) -- (b3d1.east);
\draw[link] (b3e.west) to[lbr] (b3e1) (b3e.west) to[lbr] (b3e2) (b3e.west) to[lbr] (b3e3) (b3e.west) to[lbr] (b3e4) (b3e.west) to[lbr] (b3e5) (b3e.west) to[lbr] (b3e6) (b3e.west) to[lbr] (b3e7);
\draw[link] (b3e1.west) to[lbr] (b3e11) (b3e1.west) to[lbr] (b3e12);
\draw[link] (b3e11.west) -- (b3e111.east);
\draw[link] (b3e2.west) to[lbr] (b3e21) (b3e2.west) to[lbr] (b3e22) (b3e2.west) to[lbr] (b3e23) (b3e2.west) to[lbr] (b3e24) (b3e2.west) to[lbr] (b3e25);
\draw[link] (b3e25.west) to[lbr] (b3e251) (b3e25.west) to[lbr] (b3e252);
\draw[link] (b3e252.west) to[lbr] (b3e2521) (b3e252.west) to[lbr] (b3e2522);
\draw[link] (b3e3.west) -- (b3e31.east);
\draw[link] (b3e4.west) -- (b3e41.east);
\draw[link] (b3e5.west) to[lbr] (b3e51) (b3e5.west) to[lbr] (b3e52);
\draw[link] (b3e52.west) to[lbr] (b3e521) (b3e52.west) to[lbr] (b3e522);
\draw[link] (b3e6.west) to[lbr] (b3e61) (b3e6.west) to[lbr] (b3e62) (b3e6.west) to[lbr] (b3e63);
\draw[link] (b3e7.west) to[lbr] (b3e71) (b3e7.west) to[lbr] (b3e72);
\draw[link] (b3e71.west) to[lbr] (b3e711) (b3e71.west) to[lbr] (b3e712) (b3e71.west) to[lbr] (b3e713);
\draw[link] (b3e72.west) to[lbr] (b3e721) (b3e72.west) to[lbr] (b3e722) (b3e72.west) to[lbr] (b3e723) (b3e72.west) to[lbr] (b3e724);
\draw[link] (b3e723.west) to[lbr] (b3e7231) (b3e723.west) to[lbr] (b3e7232);
\draw[link] (b3e724.west) to[lbr] (b3e7241) (b3e724.west) to[lbr] (b3e7242);
\draw[link] (b3e7242.west) -- (b3e72421.east);

% branch 5
\node[topic] (b5) at (1001,3849) {2021最新春五年级下册数学第二教\\案5};
\node[leafl] (b5a) at (831,3392) {教学目标：};
\node[leafl] (b5a1) at (752,3354) {1、理解质数和合数的概念，并能判断一个数\\是质数还是合数，会把自然数按约数的个数进\\行分类。2、培养学生自主探索、独立思考、\\合作交流的能力。};
\node[leafl] (b5a2) at (752,3431) {3、培养学生敢于探索科学之谜的精神，充分\\展示数学自身的魅力。};
\node[leafl] (b5b) at (831,3515) {教学重点：};
\node[leafl] (b5b1) at (752,3488) {1、理解掌握质数、合数的概念。};
\node[leafl] (b5b2) at (752,3544) {2、初步学会准确判断一个数是质数还是合数\\。};
\node[leafl] (b5b21) at (491,3544) {教学难点：区分奇数、质数、偶数、合数。};
\node[leafl] (b5c) at (831,4308) {教学过程：};
\node[leafl] (b5c1) at (745,3939) {一、探究发现，总结概念：};
\node[leafl] (b5c11) at (588,3614) {1、师：(出示三个同样的小正方形)每个正方\\形的边长为1，用这样的三个正方形拼成一个\\长方形，你能拼出几个不同的长方形?};
\node[leafl] (b5c111) at (330,3614) {学生独立思考，然后全班交流。};
\node[leafl] (b5c12) at (588,3685) {2、师：这样的四个小正方形能拼出几个不同\\的长方形?};
\node[leafl] (b5c121) at (330,3685) {学生各自独立思考，想像后举手回答。};
\node[leafl] (b5c13) at (588,3748) {3、师：同学们再想一下，如果有12个这样的\\小正方形，你能拼出几个不同的长方形?};
\node[leafl] (b5c131) at (330,3748) {师：我看到许多同学不用画就已经知道了。(\\指名说一说)};
\node[leafl] (b5c14) at (588,3829) {4、师：同学们，如果给出的正方形的个数越\\多，那拼出的不同的长方形的个数——，你\\觉得会怎么样?};
\node[leafl] (b5c141) at (331,3802) {学生几乎是异口同声地说：会越多。};
\node[leafl] (b5c142) at (331,3853) {师：确定吗?(引导学生展开讨论。)};
\node[leafl] (b5c15) at (588,4026) {5、师：同学们，用小正方形拼长方形，有时\\只能拼出一种，有时拼出的长方形不止一种。\\你觉得当小正方形的个数是什么数的时候，只\\能拼一种?什么情况下拼得的长方形不止一种\\?并举例说明。};
\node[leafl] (b5c151) at (331,3910) {先让学生小组讨论，然后全班交流，师根据学\\生的回答板书。};
\node[leafl] (b5c152) at (331,3995) {师：同学们，像上面这些数(板书的3、13、7\\、5、11等数)，在数学上我们把它们叫做质\\数，下面的这些数(4、6、8、9、10、12、1\\4、15等数)我们把它们叫做合数。那究竟什\\么样的数叫质数，什么样的数叫合数呢?};
\node[leafl] (b5c153) at (331,4080) {学生独立思考后，在小组内进行交流，然后再\\全班交流。};
\node[leafl] (b5c154) at (331,4143) {引导学生总结质数和合数的概念，结合学生回\\答，教师板书：(略)};
\node[leafl] (b5c16) at (588,4206) {6、让学生举例说说哪些数是质数，哪些数是\\合数，并说出理由。};
\node[leafl] (b5c17) at (588,4262) {7、师：那你们认为“1”是什么数?};
\node[leafl] (b5c171) at (389,4262) {让学生独立思考，后展开讨论。};
\node[leafl] (b5c2) at (745,4486) {二、动手操作，制质数表。};
\node[leafl] (b5c21) at (588,4392) {1、师出示：73。让学生思考着它是不是质数\\。};
\node[leafl] (b5c211) at (331,4326) {师：要想马上知道73是什么数还真不容易。\\如果有质数表可查就方便了。(同学们都说“是\\呀”。)};
\node[leafl] (b5c212) at (331,4389) {师：这表从哪来呢?};
\node[leafl] (b5c213) at (331,4460) {(教师出示百以内数表)这上面是1到100这100\\个数，它不是质数表，你们能不能想办法找出\\100以内的质数，制成质数表?谁来说说自己\\的想法?(让学生充分发表自己的想法。)};
\node[leafl] (b5c22) at (588,4531) {2、让学生动手制作质数表。};
\node[leafl] (b5c23) at (588,4580) {3、集体交流方法。};
\node[leafl] (b5c3) at (745,4629) {三、练习巩固：};
\node[leafl] (b5c31) at (638,4629) {完成练习四第1、2题。};
\node[leafl] (b5c4) at (745,4678) {四、课题小结：};
\node[leafl] (b5c41) at (638,4678) {这节课你在激烈的讨论中有什么收获?};

\draw[spoke] (b5.west) .. controls +(-10,0) and +(10,0) .. (b5a.east);
\draw[spoke] (b5.west) .. controls +(-10,0) and +(10,0) .. (b5b.east);
\draw[spoke] (b5.west) .. controls +(-10,0) and +(10,0) .. (b5c.east);
\draw[link] (b5a.west) to[lbr] (b5a1) (b5a.west) to[lbr] (b5a2);
\draw[link] (b5b.west) to[lbr] (b5b1) (b5b.west) to[lbr] (b5b2);
\draw[link] (b5b2.west) -- (b5b21.east);
\draw[link] (b5c.west) to[lbr] (b5c1) (b5c.west) to[lbr] (b5c2) (b5c.west) to[lbr] (b5c3) (b5c.west) to[lbr] (b5c4);
\draw[link] (b5c1.west) to[lbr] (b5c11) (b5c1.west) to[lbr] (b5c12) (b5c1.west) to[lbr] (b5c13) (b5c1.west) to[lbr] (b5c14) (b5c1.west) to[lbr] (b5c15) (b5c1.west) to[lbr] (b5c16) (b5c1.west) to[lbr] (b5c17);
\draw[link] (b5c11.west) -- (b5c111.east);
\draw[link] (b5c12.west) -- (b5c121.east);
\draw[link] (b5c13.west) -- (b5c131.east);
\draw[link] (b5c14.west) to[lbr] (b5c141) (b5c14.west) to[lbr] (b5c142);
\draw[link] (b5c15.west) to[lbr] (b5c151) (b5c15.west) to[lbr] (b5c152) (b5c15.west) to[lbr] (b5c153) (b5c15.west) to[lbr] (b5c154);
\draw[link] (b5c17.west) -- (b5c171.east);
\draw[link] (b5c2.west) to[lbr] (b5c21) (b5c2.west) to[lbr] (b5c22) (b5c2.west) to[lbr] (b5c23);
\draw[link] (b5c21.west) to[lbr] (b5c211) (b5c21.west) to[lbr] (b5c212) (b5c21.west) to[lbr] (b5c213);
\draw[link] (b5c3.west) -- (b5c31.east);
\draw[link] (b5c4.west) -- (b5c41.east);

% root to branches
\draw[spoke] (root.east) .. controls +(25,0) and +(-25,0) .. (intro.west);
\draw[spoke] (root.east) .. controls +(25,0) and +(-25,0) .. (b2.west);
\draw[spoke] (root.east) .. controls +(25,0) and +(-25,0) .. (b4.west);
\draw[spoke] (root.east) .. controls +(25,0) and +(-25,0) .. (b6.west);
\draw[spoke] (root.west) .. controls +(-10,0) and +(10,0) .. (b1.east);
\draw[spoke] (root.west) .. controls +(-10,0) and +(10,0) .. (b3.east);
\draw[spoke] (root.west) .. controls +(-10,0) and +(10,0) .. (b5.east);
\end{tikzpicture}
\end{document}
